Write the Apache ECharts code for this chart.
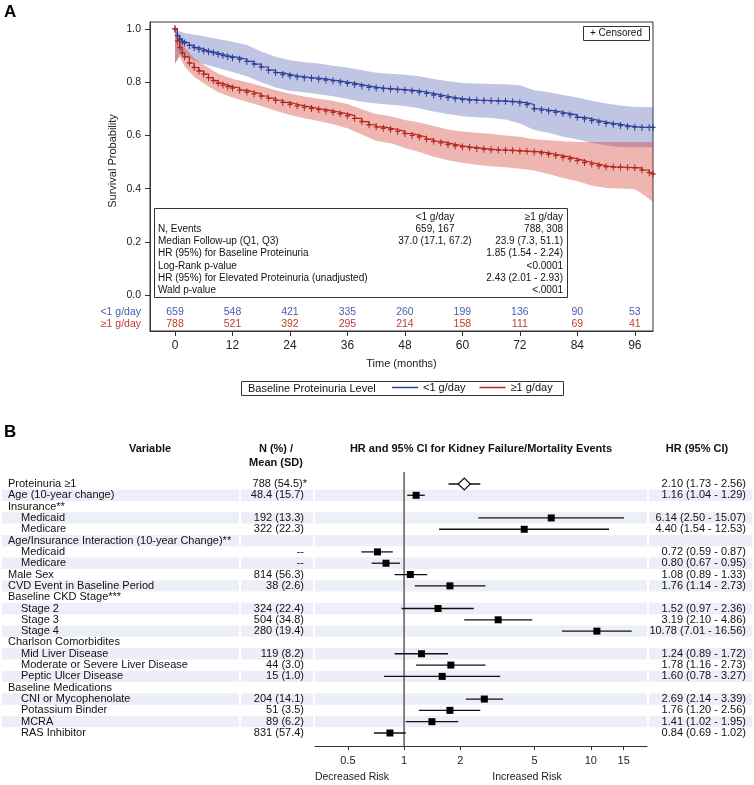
<!DOCTYPE html>
<html><head><meta charset="utf-8">
<script src="https://cdn.jsdelivr.net/npm/echarts@6/dist/echarts.min.js"></script>
<style>html,body{margin:0;padding:0;background:#fff}#c{width:754px;height:785px}</style>
</head><body><div id="c"></div>
<script>
const FONT = '"Liberation Sans", Arial, Helvetica, sans-serif';

// ---------- Panel A data ----------
const groupNames = ['<1 g/day', '≥1 g/day'];
const kmTimeTicks = [0, 12, 24, 36, 48, 60, 72, 84, 96];
const survTicks = [0, 0.2, 0.4, 0.6, 0.8, 1.0];
const riskLow = [659, 548, 421, 335, 260, 199, 136, 90, 53];
const riskHigh = [788, 521, 392, 295, 214, 158, 111, 69, 41];

const survTime = [0,0.5,1,1.5,2,3,4,5,6,7,8,9,10,11,12,13.5,15,16.5,18,19.5,21,22.5,24,25.5,27,28.5,30,31.5,33,34.5,36,37.5,39,40.5,42,43.5,45,46.5,48,49.5,51,52.5,54,55.5,57,58.5,60,61.5,63,64.5,66,67.5,69,70.5,72,73.5,75,76.5,78,79.5,81,82.5,84,85.5,87,88.5,90,91.5,93,94.5,96,97.5,99,99.8];
const survLow = [1.0,0.975,0.962,0.953,0.947,0.938,0.93,0.924,0.918,0.914,0.91,0.905,0.9,0.896,0.892,
  0.886,0.878,0.868,0.857,0.845,0.836,0.829,0.824,0.82,0.817,0.815,0.812,0.808,0.805,0.8,0.796,0.791,0.786,0.781,0.778,
  0.776,0.774,0.772,0.77,0.767,0.763,0.758,0.752,0.747,0.742,0.738,0.735,0.733,0.732,0.731,0.73,0.729,0.728,0.726,0.722,
  0.716,0.7,0.695,0.692,0.687,0.682,0.677,0.668,0.662,0.656,0.65,0.645,0.642,0.637,0.633,0.631,0.63,0.63,0.63];
const survHigh = [1.0,0.955,0.93,0.91,0.895,0.872,0.855,0.842,0.83,0.817,0.806,0.796,0.789,0.783,0.778,
  0.77,0.763,0.756,0.748,0.74,0.732,0.724,0.717,0.711,0.706,0.701,0.697,0.692,0.687,0.681,0.674,0.664,0.652,0.64,0.632,
  0.627,0.622,0.615,0.607,0.6,0.594,0.586,0.578,0.572,0.566,0.561,0.557,0.554,0.551,0.548,0.546,0.545,0.544,0.543,0.541,
  0.54,0.538,0.534,0.529,0.524,0.518,0.512,0.505,0.498,0.492,0.486,0.482,0.481,0.48,0.479,0.478,0.47,0.46,0.455];

const bandTime = [0,1,2,4,6,9,12,15,18,21,24,27,30,33,36,39,42,45,48,51,54,57,60,63,66,69,72,75,78,81,84,87,90,93,96,98,99.8];
const bandLowLo = [0.87,0.905,0.895,0.88,0.868,0.853,0.838,0.822,0.80,0.78,0.768,0.762,0.755,0.747,0.737,0.726,0.72,0.715,0.71,0.702,0.69,0.68,0.672,0.668,0.665,0.66,0.645,0.62,0.61,0.595,0.585,0.572,0.562,0.556,0.555,0.555,0.555];
const bandLowHi = [1.0,0.99,0.985,0.978,0.972,0.962,0.952,0.94,0.915,0.895,0.882,0.875,0.87,0.862,0.855,0.845,0.835,0.832,0.828,0.822,0.812,0.803,0.797,0.795,0.793,0.792,0.788,0.77,0.762,0.752,0.742,0.73,0.72,0.712,0.707,0.707,0.707];
const bandHighLo = [0.87,0.895,0.86,0.82,0.795,0.762,0.742,0.726,0.71,0.693,0.677,0.664,0.654,0.642,0.627,0.603,0.58,0.57,0.553,0.538,0.52,0.507,0.497,0.49,0.484,0.48,0.475,0.468,0.455,0.44,0.428,0.412,0.402,0.4,0.398,0.375,0.35];
const bandHighHi = [1.0,0.96,0.93,0.89,0.865,0.832,0.813,0.80,0.786,0.77,0.756,0.746,0.738,0.73,0.718,0.698,0.68,0.672,0.658,0.648,0.635,0.622,0.615,0.61,0.606,0.6,0.595,0.585,0.582,0.578,0.575,0.575,0.575,0.575,0.575,0.575,0.575];

const statLabels = ['N, Events','Median Follow-up (Q1, Q3)','HR (95%) for Baseline Proteinuria','Log-Rank p-value','HR (95%) for Elevated Proteinuria (unadjusted)','Wald p-value'];
const statLow = ['659, 167','37.0 (17.1, 67.2)','','','',''];
const statHigh = ['788, 308','23.9 (7.3, 51.1)','1.85 (1.54 - 2.24)','<0.0001','2.43 (2.01 - 2.93)','<.0001'];

// ---------- Panel B data ----------
const varNames = ['Proteinuria ≥1','Age (10-year change)','Insurance**','Medicaid','Medicare','Age/Insurance Interaction (10-year Change)**','Medicaid','Medicare','Male Sex','CVD Event in Baseline Period','Baseline CKD Stage***','Stage 2','Stage 3','Stage 4','Charlson Comorbidites','Mid Liver Disease','Moderate or Severe Liver Disease','Peptic Ulcer Disease','Baseline Medications','CNI or Mycophenolate','Potassium Binder','MCRA','RAS Inhibitor'];
const varIndent = [0,0,0,1,1,0,1,1,0,0,0,1,1,1,0,1,1,1,0,1,1,1,1];
const nStats = ['788 (54.5)*','48.4 (15.7)','','192 (13.3)','322 (22.3)','','--','--','814 (56.3)','38 (2.6)','','324 (22.4)','504 (34.8)','280 (19.4)','','119 (8.2)','44 (3.0)','15 (1.0)','','204 (14.1)','51 (3.5)','89 (6.2)','831 (57.4)'];
const hrEst = [2.10,1.16,null,6.14,4.40,null,0.72,0.80,1.08,1.76,null,1.52,3.19,10.78,null,1.24,1.78,1.60,null,2.69,1.76,1.41,0.84];
const hrLow = [1.73,1.04,null,2.50,1.54,null,0.59,0.67,0.89,1.14,null,0.97,2.10,7.01,null,0.89,1.16,0.78,null,2.14,1.20,1.02,0.69];
const hrHigh = [2.56,1.29,null,15.07,12.53,null,0.87,0.95,1.33,2.73,null,2.36,4.86,16.56,null,1.72,2.73,3.27,null,3.39,2.56,1.95,1.02];
const forestTicks = [0.5, 1, 2, 5, 10, 15];
const mainExposureRow = 0;

// ---------- layout constants ----------
const RISK_Y_LOW = -0.064, RISK_Y_HIGH = -0.109;
const C_BLUE = '#2f3f97', C_RED = '#b3261e';
const C_BLUE_T = '#4a5cb0', C_RED_T = '#c23b2f';
const FY_MIN = -1.06, FY_MAX = 23.15;

function fnt(size, bold) { return (bold ? 'bold ' : '') + size + 'px ' + FONT; }
function T(x, y, text, o) {
  o = o || {};
  const al = o.align || 'left';
  return {type: 'text', x: x, y: y, silent: true, z: 50, rotation: o.rotation || 0,
    style: {text: text, font: fnt(o.size || 11, o.bold), fill: o.color || '#111',
      align: al, verticalAlign: 'middle', textAlign: al, textVerticalAlign: 'middle'}};
}
function bandPolygon(api, ts, lo, hi) {
  const pts = [];
  for (let i = 0; i < ts.length; i++) pts.push(api.coord([ts[i], hi[i]]));
  for (let i = ts.length - 1; i >= 0; i--) pts.push(api.coord([ts[i], lo[i]]));
  return pts;
}
const plusPath = 'path://M4,0h2v4h4v2h-4v4h-2v-4h-4v-2h4z';

const graphics = [];
graphics.push(T(4, 12, 'A', {size: 17, bold: true, color: '#000'}));
graphics.push(T(4, 432, 'B', {size: 17, bold: true, color: '#000'}));
graphics.push(T(113, 161, 'Survival Probability', {size: 11, align: 'center', rotation: Math.PI / 2, color: '#222'}));
// censored box
graphics.push({type: 'rect', silent: true, z: 40, shape: {x: 583.5, y: 26.5, width: 66, height: 14}, style: {fill: '#fff', stroke: '#333', lineWidth: 1}});
graphics.push(T(590, 33.5, '+ Censored', {size: 10, color: '#111'}));
// inset stats table
graphics.push({type: 'rect', silent: true, z: 40, shape: {x: 154.5, y: 208.5, width: 413, height: 89}, style: {fill: '#fff', stroke: '#333', lineWidth: 1}});
graphics.push(T(435, 217, groupNames[0], {size: 10, align: 'center'}));
graphics.push(T(563, 217, groupNames[1], {size: 10, align: 'right'}));
statLabels.forEach((s, i) => {
  const y = 229.2 + i * 12.2;
  graphics.push(T(158, y, s, {size: 10}));
  if (statLow[i]) graphics.push(T(435, y, statLow[i], {size: 10, align: 'center'}));
  if (statHigh[i]) graphics.push(T(563, y, statHigh[i], {size: 10, align: 'right'}));
});
// legend box
graphics.push({type: 'rect', silent: true, z: 0, shape: {x: 241.5, y: 381.5, width: 322, height: 14}, style: {fill: 'transparent', stroke: '#333', lineWidth: 1}});
graphics.push(T(248, 388.5, 'Baseline Proteinuria Level', {size: 11, color: '#111'}));
// panel B headers
graphics.push(T(150, 449, 'Variable', {size: 11, bold: true, align: 'center'}));
graphics.push(T(276, 449, 'N (%) /', {size: 11, bold: true, align: 'center'}));
graphics.push(T(276, 463, 'Mean (SD)', {size: 11, bold: true, align: 'center'}));
graphics.push(T(481, 449, 'HR and 95% CI for Kidney Failure/Mortality Events', {size: 11, bold: true, align: 'center'}));
graphics.push(T(697, 449, 'HR (95% CI)', {size: 11, bold: true, align: 'center'}));
graphics.push(T(352, 777, 'Decreased Risk', {size: 10.5, align: 'center', color: '#222'}));
graphics.push(T(527, 777, 'Increased Risk', {size: 10.5, align: 'center', color: '#222'}));

const shadeSegments = [[2, 239], [241, 313], [315, 647], [649, 752]];

const option = {
  animation: false,
  textStyle: {fontFamily: FONT},
  grid: [
    {left: 150, top: 22, width: 503, height: 309, show: true, borderColor: '#333', borderWidth: 1, backgroundColor: 'transparent'},
    {left: 315, top: 472, width: 332, height: 274}
  ],
  xAxis: [
    {gridIndex: 0, type: 'value', min: -5.22, max: 99.8,
      axisLine: {show: true, onZero: false, lineStyle: {color: '#333'}},
      axisTick: {show: true, length: 5, customValues: kmTimeTicks, lineStyle: {color: '#333'}},
      axisLabel: {customValues: kmTimeTicks, fontSize: 12, color: '#222', margin: 9},
      splitLine: {show: false},
      name: 'Time (months)', nameLocation: 'middle', nameGap: 27,
      nameTextStyle: {fontSize: 11, color: '#222'}},
    {gridIndex: 1, type: 'log', logBase: 10, min: 1 / 3, max: 20,
      axisLine: {show: true, onZero: false, lineStyle: {color: '#333'}},
      axisTick: {show: true, length: 4, customValues: forestTicks, lineStyle: {color: '#333'}},
      axisLabel: {customValues: forestTicks, fontSize: 11, color: '#222', margin: 9,
        formatter: v => String(+(+v).toPrecision(3))},
      minorTick: {show: false}, splitLine: {show: false}}
  ],
  yAxis: [
    {gridIndex: 0, type: 'value', min: -0.135, max: 1.026,
      axisLine: {show: true, onZero: false, lineStyle: {color: '#333'}},
      axisTick: {show: true, length: 5, customValues: survTicks, lineStyle: {color: '#333'}},
      axisLabel: {customValues: [RISK_Y_HIGH, RISK_Y_LOW].concat(survTicks), fontSize: 10.5, color: '#222', margin: 9,
        formatter: v => {
          if (Math.abs(v - RISK_Y_LOW) < 1e-6) return '{b|' + groupNames[0] + '}';
          if (Math.abs(v - RISK_Y_HIGH) < 1e-6) return '{r|' + groupNames[1] + '}';
          return (+v).toFixed(1);
        },
        rich: {b: {color: C_BLUE_T, fontSize: 10.5}, r: {color: C_RED_T, fontSize: 10.5}}},
      splitLine: {show: false}},
    {gridIndex: 1, type: 'value', inverse: true, min: FY_MIN, max: FY_MAX, show: false}
  ],
  legend: {
    data: groupNames, left: 392, top: 382, padding: 0, z: 60,
    icon: 'rect', itemWidth: 26, itemHeight: 1.5, itemGap: 14,
    textStyle: {fontSize: 11, color: '#111', fontFamily: FONT}
  },
  graphic: graphics,
  series: [
    // CI bands
    {type: 'custom', name: 'bandLow', xAxisIndex: 0, yAxisIndex: 0, silent: true, z: 1,
      data: [[50, 0.5]], encode: {x: 0, y: 1},
      renderItem: (p, api) => ({type: 'polygon', shape: {points: bandPolygon(api, bandTime, bandLowLo, bandLowHi)},
        style: {fill: 'rgba(60,80,170,0.33)'}})},
    {type: 'custom', name: 'bandHigh', xAxisIndex: 0, yAxisIndex: 0, silent: true, z: 1,
      data: [[50, 0.5]], encode: {x: 0, y: 1},
      renderItem: (p, api) => ({type: 'polygon', shape: {points: bandPolygon(api, bandTime, bandHighLo, bandHighHi)},
        style: {fill: 'rgba(210,50,40,0.36)'}})},
    // KM curves with censor marks
    {type: 'line', name: groupNames[0], xAxisIndex: 0, yAxisIndex: 0, step: 'end', z: 3,
      data: survTime.map((t, i) => [t, survLow[i]]),
      symbol: plusPath, symbolSize: [5, 7], showAllSymbol: true,
      itemStyle: {color: C_BLUE}, lineStyle: {color: C_BLUE, width: 1.2}},
    {type: 'line', name: groupNames[1], xAxisIndex: 0, yAxisIndex: 0, step: 'end', z: 3,
      data: survTime.map((t, i) => [t, survHigh[i]]),
      symbol: plusPath, symbolSize: [5, 7], showAllSymbol: true,
      itemStyle: {color: C_RED}, lineStyle: {color: C_RED, width: 1.2}},
    // risk table numbers
    {type: 'custom', name: 'riskLow', xAxisIndex: 0, yAxisIndex: 0, silent: true, z: 4,
      data: riskLow.map((n, i) => [kmTimeTicks[i], RISK_Y_LOW, n]), encode: {x: 0, y: 1},
      renderItem: (p, api) => { const c = api.coord([api.value(0), api.value(1)]);
        return {type: 'text', x: c[0], y: c[1], style: {text: String(api.value(2)), font: fnt(10.5), fill: C_BLUE_T,
          align: 'center', verticalAlign: 'middle', textAlign: 'center', textVerticalAlign: 'middle'}}; }},
    {type: 'custom', name: 'riskHigh', xAxisIndex: 0, yAxisIndex: 0, silent: true, z: 4,
      data: riskHigh.map((n, i) => [kmTimeTicks[i], RISK_Y_HIGH, n]), encode: {x: 0, y: 1},
      renderItem: (p, api) => { const c = api.coord([api.value(0), api.value(1)]);
        return {type: 'text', x: c[0], y: c[1], style: {text: String(api.value(2)), font: fnt(10.5), fill: C_RED_T,
          align: 'center', verticalAlign: 'middle', textAlign: 'center', textVerticalAlign: 'middle'}}; }},
    // Panel B row shading
    {type: 'custom', name: 'rowShade', xAxisIndex: 1, yAxisIndex: 1, silent: true, clip: false, z: 0,
      data: varNames.map((n, i) => [1, i]), encode: {x: 0, y: 1},
      renderItem: (p, api) => {
        const i = api.value(1);
        if (i % 2 !== 1) return {type: 'group', children: []};
        const y0 = api.coord([1, i - 0.5])[1], y1 = api.coord([1, i + 0.5])[1];
        return {type: 'group', children: shadeSegments.map(s => ({type: 'rect',
          shape: {x: s[0], y: y0, width: s[1] - s[0], height: y1 - y0}, style: {fill: '#eceff7'}}))};
      }},
    // Panel B row texts
    {type: 'custom', name: 'rowText', xAxisIndex: 1, yAxisIndex: 1, silent: true, clip: false, z: 5,
      data: varNames.map((n, i) => [1, i]), encode: {x: 0, y: 1},
      renderItem: (p, api) => {
        const i = api.value(1);
        const y = api.coord([1, i])[1];
        const st = (text, al) => ({text: text, font: fnt(11), fill: '#111', align: al, verticalAlign: 'middle', textAlign: al, textVerticalAlign: 'middle'});
        const ch = [{type: 'text', x: varIndent[i] ? 21 : 8, y: y, style: st(varNames[i], 'left')}];
        if (nStats[i]) ch.push({type: 'text', x: nStats[i].endsWith('*') ? 307 : 304, y: y, style: st(nStats[i], 'right')});
        if (hrEst[i] != null) ch.push({type: 'text', x: 746, y: y,
          style: st(hrEst[i].toFixed(2) + ' (' + hrLow[i].toFixed(2) + ' - ' + hrHigh[i].toFixed(2) + ')', 'right')});
        return {type: 'group', children: ch};
      }},
    // reference line at HR = 1
    {type: 'custom', name: 'refLine', xAxisIndex: 1, yAxisIndex: 1, silent: true, clip: false, z: 2,
      data: [[1, 0]], encode: {x: 0, y: 1},
      renderItem: (p, api) => { const a = api.coord([1, FY_MIN]), b = api.coord([1, FY_MAX]);
        return {type: 'line', shape: {x1: a[0], y1: a[1], x2: b[0], y2: b[1]}, style: {stroke: '#666', lineWidth: 1.6}}; }},
    // forest marks
    {type: 'custom', name: 'forest', xAxisIndex: 1, yAxisIndex: 1, silent: true, z: 6,
      data: hrEst.map((h, i) => h == null ? null : [h, i, hrLow[i], hrHigh[i]]).filter(d => d),
      encode: {x: 0, y: 1},
      renderItem: (p, api) => {
        const hr = api.value(0), i = api.value(1), lo = api.value(2), hi = api.value(3);
        const c = api.coord([hr, i]), l = api.coord([lo, i]), h = api.coord([hi, i]);
        const ch = [{type: 'line', shape: {x1: l[0], y1: c[1], x2: h[0], y2: c[1]}, style: {stroke: '#111', lineWidth: 1.3}}];
        if (i === mainExposureRow) {
          ch.push({type: 'polygon', shape: {points: [[c[0] - 6, c[1]], [c[0], c[1] - 6], [c[0] + 6, c[1]], [c[0], c[1] + 6]]},
            style: {fill: '#fff', stroke: '#111', lineWidth: 1.2}});
        } else {
          ch.push({type: 'rect', shape: {x: c[0] - 3.5, y: c[1] - 3.5, width: 7, height: 7}, style: {fill: '#000'}});
        }
        return {type: 'group', children: ch};
      }}
  ]
};

const chart = echarts.init(document.getElementById('c'), null, {renderer: 'canvas'});
chart.setOption(option);
</script></body></html>
